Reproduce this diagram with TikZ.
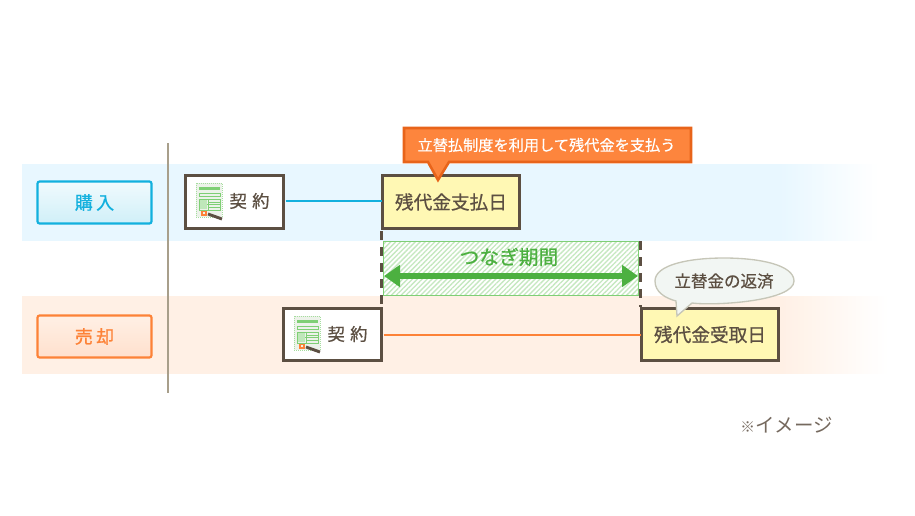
\documentclass[tikz,border=0pt]{standalone}
\usepackage{fontspec}
\newfontfamily\cjk{Noto Sans CJK JP}
\newfontfamily\cjkm[FakeBold=0.8]{Noto Sans CJK JP}
\newfontfamily\cjks[FakeBold=0.35]{Noto Sans CJK JP}
\usetikzlibrary{patterns.meta,arrows.meta,shapes.geometric}
\definecolor{bandblue}{HTML}{E8F7FF}
\definecolor{bandorange}{HTML}{FFF0E5}
\definecolor{cblue}{HTML}{12B0DE}
\definecolor{corange}{HTML}{FD8237}
\definecolor{cbrown}{HTML}{5C4F42}
\definecolor{cyellow}{HTML}{FFF8B4}
\definecolor{cgreen}{HTML}{4CB040}
\definecolor{cgreenl}{HTML}{7FCF75}
\definecolor{hatch}{HTML}{C5E8C0}
\definecolor{calloutf}{HTML}{FD853D}
\definecolor{calloutd}{HTML}{E8641A}
\definecolor{rulec}{HTML}{A89F8B}
\definecolor{bubblef}{HTML}{F2F6F3}
\definecolor{bubbled}{HTML}{C6C6B8}
\definecolor{iconbg}{HTML}{EDF2EA}
\tikzset{
  x=0.75pt,y=-0.75pt,
  every node/.style={font=\cjk,inner sep=0pt,outer sep=0pt},
  btn/.style={draw,line width=1.6pt,rounded corners=1.5pt,minimum width=85.5pt,minimum height=31.5pt,font=\cjkm\fontsize{13.5pt}{15pt}\selectfont},
  whitebox/.style={draw=cbrown,line width=2.4pt,fill=white,minimum width=73.5pt,minimum height=39.5pt},
  daybox/.style={draw=cbrown,line width=2.4pt,fill=cyellow,text=cbrown,minimum width=103pt,minimum height=39.5pt,font=\cjkm\fontsize{14pt}{16pt}\selectfont},
  keiyaku/.style={text=cbrown,font=\cjkm\fontsize{13pt}{15pt}\selectfont},
  conn/.style={line width=1.5pt},
  gap/.style={draw=cbrown,line width=2.4pt,dash pattern=on 6.5pt off 5.5pt},
  icon/.pic={
    \fill[iconbg] (-1,-1) rectangle (25,33);
    \draw[cgreenl!70,line width=.5pt,densely dotted] (-1,-1) rectangle (25,33);
    \fill[cgreenl] (2,3) rectangle (23,6);
    \draw[cgreenl,line width=.7pt] (2,9) rectangle (23,12);
    \draw[cgreenl,line width=.7pt] (2,15) rectangle (23,26);
    \draw[cgreenl,line width=.6pt] (11,15)--(11,26) (2,20.5)--(23,20.5) (11,18)--(23,18) (11,23)--(23,23);
    \fill[cgreenl!50] (3,16) rectangle (10,25);
    \fill[iconbg] (4,27) rectangle (10,32);
    \draw[corange,line width=1pt] (5,27.5) rectangle (9,31);
    \draw[cbrown,line width=2.2pt] (11,30)--(25,35);
  }
}
\begin{document}
\begin{tikzpicture}
\useasboundingbox (0,0) rectangle (915,515);
% bands
\fill[bandblue] (22,164) rectangle (781,241);
\foreach \i in {0,...,47}{
  \pgfmathsetmacro{\p}{100-\i*100/48}
  \fill[bandblue!\p!white] (780+2*\i,164) rectangle (782.5+2*\i,241);
}
\fill[bandorange] (22,296) rectangle (781,374);
\foreach \i in {0,...,52}{
  \pgfmathsetmacro{\p}{100-\i*100/53}
  \fill[bandorange!\p!white] (780+2*\i,296) rectangle (782.5+2*\i,374);
}
% rule
\draw[rulec,line width=1pt] (168,143)--(168,393);
% row buttons
\node[btn,draw=cblue,text=cblue,top color=cblue!6,bottom color=cblue!20] (buy) at (94.5,202.5) {購\hspace{2.5pt}入};
\node[btn,draw=corange,text=corange,top color=bandorange,bottom color=corange!25] (sell) at (94.5,336.5) {売\hspace{2.5pt}却};
% boxes
\node[whitebox] (c1) at (234.5,202) {};
\node[whitebox] (c2) at (332.5,334.5) {};
\node[daybox] (pay) at (451,202) {残代金支払日};
\node[daybox] (recv) at (710,334.5) {残代金受取日};
\pic at (197,184) {icon};
\pic at (295,317) {icon};
\node[keiyaku,anchor=center] (k1) at (249.5,201) {契\hspace{4pt}約};
\node[keiyaku,anchor=center] (k2) at (347.5,334) {契\hspace{4pt}約};
% connectors
\draw[cblue,conn] (c1.east)++(2,-1) -- (pay.west |- 0,201);
\draw[corange,conn] (c2.east)++(2,0) -- (recv.west);
% gap
\draw[gap] (381.5,231) -- (381.5,307);
\draw[gap] (640.5,241) -- (640.5,307);
\node[draw=cgreenl,line width=.9pt,fill=white,minimum width=191pt,minimum height=41pt] (period) at (511,268.5) {};
\fill[pattern={Lines[angle=45,distance=2.6pt,line width=1pt]},pattern color=hatch] (period.south west) rectangle (period.north east);
\draw[cgreenl,line width=.9pt] (period.south west) rectangle (period.north east);
\coordinate (pl) at (384,276);
\coordinate (pr) at (638,276);
\draw[cgreen,line width=5pt,{Triangle[length=12pt,width=16pt]}-{Triangle[length=12pt,width=16pt]}] (pl) -- (pr);
\node[text=cgreen,font=\cjkm\fontsize{14.8pt}{16pt}\selectfont] (tsunagi) at (509,257) {つなぎ期間};
% callout
\draw[calloutd,fill=calloutf,line width=1.9pt,line join=miter] (404,128) -- (691,128) -- (691,162) -- (449,162) -- (438,180) -- (428,162) -- (404,162) -- cycle;
\node[text=white,font=\cjks\fontsize{11.4pt}{13pt}\selectfont] (ct) at (546.5,145) {立替払制度を利用して残代金を支払う};
% bubble
\draw[bubbled,fill=bubblef,line width=1pt] (676,301) -- (677,316) -- (692,303) .. controls (716,306) and (794,301) .. (794,281) .. controls (794,265) and (760,258) .. (724,258) .. controls (688,258) and (655,265) .. (655,281) .. controls (655,292) and (665,298) .. (676,301) -- cycle;
\node[text=cbrown,font=\cjks\fontsize{12.4pt}{14pt}\selectfont] (bt) at (724,281) {立替金の返済};
% note
\node[text=cbrown!85,font=\cjk\fontsize{14.6pt}{16pt}\selectfont] (note) at (786.5,425) {{\fontsize{11pt}{12pt}\selectfont ※}イメージ};
\end{tikzpicture}
\end{document}
